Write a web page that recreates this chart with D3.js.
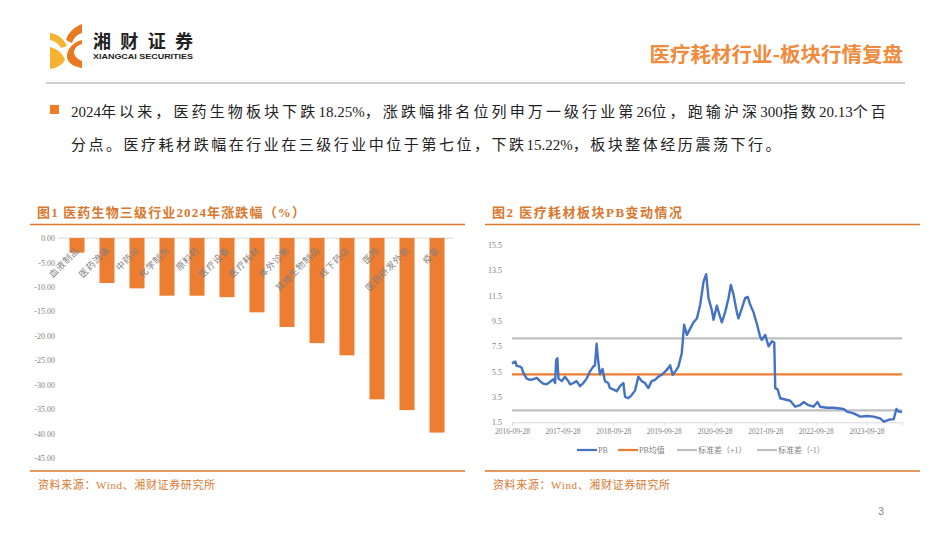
<!DOCTYPE html>
<html><head><meta charset="utf-8">
<script src="https://cdn.jsdelivr.net/npm/d3@7"></script>
<style>
body{margin:0;background:#fff;}
svg{display:block;}
</style></head><body>
<svg id="c" width="950" height="535"></svg>
<script>
// ---------- data ----------
const barCategories = ["血液制品","医药流通","中药Ⅲ","化学制剂","原料药","医疗设备","医疗耗材","体外诊断","其他生物制品","线下药店","医院","医药研发外包","疫苗"];
const barValues = [-3.0,-9.2,-10.3,-11.8,-11.8,-12.1,-15.2,-18.2,-21.5,-24.0,-33.0,-35.2,-39.8];
const barTicks = [0,-5,-10,-15,-20,-25,-30,-35,-40,-45];

const pbDates = ["2016-09-28","2016-10-22","2016-11-01","2016-11-25","2016-12-07","2016-12-19","2017-01-12","2017-02-05","2017-03-01","2017-03-26","2017-04-18","2017-05-12","2017-06-05","2017-06-30","2017-07-24","2017-08-05","2017-08-12","2017-08-21","2017-08-29","2017-09-22","2017-10-15","2017-11-08","2017-11-20","2017-12-14","2018-01-07","2018-01-31","2018-02-24","2018-03-20","2018-04-12","2018-05-07","2018-05-19","2018-05-31","2018-06-12","2018-06-24","2018-07-13","2018-07-30","2018-08-23","2018-09-04","2018-09-28","2018-10-23","2018-11-16","2018-12-10","2018-12-22","2019-01-15","2019-02-08","2019-03-04","2019-03-28","2019-04-21","2019-05-15","2019-06-08","2019-07-02","2019-07-26","2019-08-19","2019-09-12","2019-10-07","2019-10-31","2019-11-12","2019-12-01","2019-12-18","2020-01-11","2020-02-04","2020-02-21","2020-03-12","2020-04-05","2020-04-29","2020-05-23","2020-06-16","2020-07-10","2020-07-29","2020-08-15","2020-09-08","2020-09-20","2020-10-14","2020-11-07","2020-11-19","2020-12-13","2021-01-06","2021-01-23","2021-02-11","2021-03-07","2021-03-19","2021-04-12","2021-05-06","2021-05-25","2021-06-11","2021-07-05","2021-07-29","2021-08-22","2021-09-03","2021-09-28","2021-10-22","2021-11-15","2021-12-02","2021-12-09","2021-12-26","2022-01-14","2022-02-19","2022-03-27","2022-05-02","2022-06-07","2022-07-01","2022-08-06","2022-09-11","2022-10-10","2022-10-29","2022-12-17","2023-02-03","2023-04-16","2023-05-10","2023-06-27","2023-08-14","2023-10-01","2023-11-18","2024-01-06","2024-01-30","2024-03-06","2024-04-11","2024-05-01","2024-05-17","2024-06-10"];
const pbValues = [6.15,6.3,5.95,5.9,5.8,5.4,4.95,4.85,4.9,5.0,4.75,4.55,4.5,4.7,4.9,4.6,6.4,6.55,4.95,4.75,5.1,4.75,4.5,4.6,4.75,4.35,4.6,4.95,5.5,5.9,6.0,7.7,6.3,5.3,5.7,4.75,4.6,4.2,4.1,3.95,4.35,4.6,3.5,3.4,3.65,4.0,5.1,4.75,4.6,4.2,4.75,4.85,5.1,5.25,5.5,5.8,6.0,5.25,5.5,5.9,6.95,9.2,8.4,8.9,9.4,9.7,10.8,12.6,13.2,11.3,10.35,9.6,10.7,9.8,9.4,10.2,11.3,12.35,11.6,10.2,9.7,10.5,11.3,11.4,10.8,10.2,9.3,8.25,8.0,8.4,7.5,7.9,7.8,4.2,4.1,3.4,3.3,3.2,2.73,2.85,3.1,2.85,2.73,3.1,2.73,2.65,2.65,2.55,2.34,2.2,1.95,2.0,1.95,1.8,1.55,1.7,1.75,2.55,2.35,2.3];
const pbMean = 5.29;
const pbPlus1 = 8.13;
const pbMinus1 = 2.44;
const pbTicks = [1.5,3.5,5.5,7.5,9.5,11.5,13.5,15.5];
const pbDateTicks = ["2016-09-28","2017-09-28","2018-09-28","2019-09-28","2020-09-28","2021-09-28","2022-09-28","2023-09-28"];
const legendItems = ["PB","PB均值","标准差（+1）","标准差（-1）"];

// ---------- style ----------
const SERIF = "'Liberation Serif','Noto Sans CJK SC',serif";
const SANS = "'Noto Sans CJK SC','Noto Sans',sans-serif";
const ORANGE = "#ED7D31";
const TITLE_OR = "#D9782F";
const GRAY_T = "#7F7F7F";
const svg = d3.select("#c");

// ---------- header ----------
const logo = svg.append("g");
logo.append("path").attr("fill","#F6B332")
  .attr("d","M50,33 C58,34 64,39 67,46 L61,48 C59,44 55,41 50,40 Z");
logo.append("path").attr("fill","#F6B332")
  .attr("d","M50,47 C58,49 63,54 65,60 C62,65 57,68 50,69 Z");
logo.append("path").attr("fill","#E9791E")
  .attr("d","M82,24 C74,27 68,33 66,40 L72,43 C74,37 78,34 82,33 Z");
logo.append("path").attr("fill","#E9791E")
  .attr("d","M82,40 C73,42 66,50 67,58 C69,64 75,67 82,68 L82,61 C77,59 74,56 74,52 C75,47 78,45 82,44 Z");
svg.append("text").attr("x",93).attr("y",48).attr("font-family",SANS).attr("font-weight","bold")
  .attr("font-size",18).attr("fill","#222").attr("textLength",100).text("湘财证券");
svg.append("text").attr("x",93).attr("y",58.5).attr("font-family","'Liberation Sans',Arial,sans-serif")
  .attr("font-weight","bold").attr("font-size",7.4).attr("fill","#222").attr("textLength",100)
  .attr("lengthAdjust","spacingAndGlyphs").text("XIANGCAI SECURITIES");
svg.append("text").attr("x",903).attr("y",62).attr("text-anchor","end").attr("font-family",SANS)
  .attr("font-weight","bold").attr("font-size",20.5).attr("fill","#F08A3C").text("医疗耗材行业-板块行情复盘");
svg.append("line").attr("x1",46).attr("x2",905).attr("y1",83).attr("y2",83)
  .attr("stroke","#BFBFBF").attr("stroke-width",1.5);

// ---------- bullet ----------
svg.append("rect").attr("x",50).attr("y",105).attr("width",9).attr("height",9).attr("fill","#F07C24");
function richLine(x,y,str,target){
  const t = svg.append("text").attr("x",x).attr("y",y).attr("font-family",SERIF)
    .attr("font-size",15).attr("fill","#222");
  const runs = str.match(/[\x00-\x7F]+|[^\x00-\x7F]+/g);
  let nC = 0;
  runs.forEach(r=>{
    const isC = /[^\x00-\x7F]/.test(r);
    if(isC) nC += r.length;
    t.append("tspan").attr("class",isC?"cjk":"lat").text(r);
  });
  const w = t.node().getComputedTextLength();
  const s = (target - w)/nC;
  t.selectAll("tspan.cjk").attr("letter-spacing",s);
}
richLine(71,117,"2024年以来，医药生物板块下跌18.25%，涨跌幅排名位列申万一级行业第26位，跑输沪深300指数20.13个百",818);
richLine(71,150,"分点。医疗耗材跌幅在行业在三级行业中位于第七位，下跌15.22%，板块整体经历震荡下行。",712);

// ---------- panel frames ----------
function panel(x0,x1,title,titleLen){
  svg.append("text").attr("x",x0+7).attr("y",217).attr("font-family",SERIF).attr("font-weight","bold")
    .attr("font-size",13).attr("fill",TITLE_OR).attr("textLength",titleLen).attr("lengthAdjust","spacing").text(title);
  svg.append("line").attr("x1",x0).attr("x2",x1).attr("y1",224.5).attr("y2",224.5)
    .attr("stroke",TITLE_OR).attr("stroke-width",1.3);
  svg.append("line").attr("x1",x0).attr("x2",x1).attr("y1",471).attr("y2",471)
    .attr("stroke",TITLE_OR).attr("stroke-width",1.3);
  svg.append("text").attr("x",x0+8).attr("y",489).attr("font-family",SERIF)
    .attr("font-size",11).attr("fill",TITLE_OR).attr("textLength",177).attr("lengthAdjust","spacing")
    .text("资料来源：Wind、湘财证券研究所");
}
panel(30,465,"图1 医药生物三级行业2024年涨跌幅（%）",268);
panel(485,920,"图2 医疗耗材板块PB变动情况",190);

// ---------- bar chart ----------
const xb = d3.scaleBand().domain(barCategories).range([62,452]).paddingInner(0.5).paddingOuter(0.25);
const yb = d3.scaleLinear().domain([-45,0]).range([458,238]);
const gb = svg.append("g");
gb.append("line").attr("x1",58).attr("x2",453).attr("y1",yb(0)).attr("y2",yb(0))
  .attr("stroke","#D9D9D9").attr("stroke-width",1);
gb.selectAll("rect.bar").data(barValues).join("rect").attr("class","bar")
  .attr("x",(d,i)=>xb(barCategories[i])).attr("width",xb.bandwidth())
  .attr("y",yb(0)).attr("height",d=>yb(d)-yb(0)).attr("fill",ORANGE);
const yAxisB = d3.axisLeft(yb).tickValues(barTicks).tickSize(0).tickPadding(0).tickFormat(d3.format(".2f"));
const ga = gb.append("g").attr("transform","translate(55,0)").call(yAxisB);
ga.select(".domain").remove();
ga.selectAll("text").attr("font-family",SERIF).attr("font-size",8).attr("fill",GRAY_T)
  .text(d=>d===0?"0.00":d3.format(".2f")(d).replace("−","-"));
gb.selectAll("text.cat").data(barCategories).join("text").attr("class","cat")
  .attr("transform",d=>`translate(${xb(d)+xb.bandwidth()/2+3},251) rotate(-45)`)
  .attr("text-anchor","end").attr("font-family",SANS).attr("font-size",9).attr("fill",GRAY_T)
  .attr("letter-spacing",0.6)
  .text(d=>d);

// ---------- PB line chart ----------
const parse = d3.timeParse("%Y-%m-%d");
const pbData = pbDates.map((d,i)=>({t:parse(d),v:pbValues[i]}));
const xt = d3.scaleTime().domain([parse("2016-09-28"),parse("2024-06-10")]).range([512,902]);
const yt = d3.scaleLinear().domain([1.5,15.5]).range([422.3,245]);
const gp = svg.append("g");
const xAxisP = d3.axisBottom(xt).tickValues(pbDateTicks.map(parse)).tickSize(3).tickPadding(3)
  .tickFormat(d3.timeFormat("%Y-%m-%d"));
const gx = gp.append("g").attr("transform",`translate(0,${yt(1.5)})`).call(xAxisP);
gx.select(".domain").attr("stroke","#D9D9D9");
gx.selectAll(".tick line").attr("stroke","#D9D9D9");
gx.selectAll("text").attr("font-family",SERIF).attr("font-size",7.5).attr("fill",GRAY_T);
const yAxisP = d3.axisLeft(yt).tickValues(pbTicks).tickSize(0).tickPadding(0).tickFormat(d3.format(".1f"));
const gy = gp.append("g").attr("transform","translate(502,0)").call(yAxisP);
gy.select(".domain").remove();
gy.selectAll("text").attr("font-family",SERIF).attr("font-size",8).attr("fill",GRAY_T);
const refLines = [{v:pbPlus1,c:"#BFBFBF"},{v:pbMinus1,c:"#BFBFBF"},{v:pbMean,c:ORANGE}];
gp.selectAll("line.ref").data(refLines).join("line").attr("class","ref")
  .attr("x1",xt.range()[0]).attr("x2",xt.range()[1]).attr("y1",d=>yt(d.v)).attr("y2",d=>yt(d.v))
  .attr("stroke",d=>d.c).attr("stroke-width",2.2);
gp.append("path").datum(pbData).attr("fill","none").attr("stroke","#4472C4").attr("stroke-width",2.4)
  .attr("stroke-linejoin","round")
  .attr("d",d3.line().x(d=>xt(d.t)).y(d=>yt(d.v)));

// legend
const legColors = ["#4472C4",ORANGE,"#BFBFBF","#BFBFBF"];
const legX = [577,618,677,757];
const gl = gp.selectAll("g.leg").data(legendItems).join("g").attr("class","leg")
  .attr("transform",(d,i)=>`translate(${legX[i]},450)`);
gl.append("line").attr("x1",0).attr("x2",20).attr("stroke",(d,i)=>legColors[i]).attr("stroke-width",2.2);
gl.append("text").attr("x",21).attr("y",3).attr("font-family",SERIF).attr("font-size",8)
  .attr("fill",GRAY_T).text(d=>d);

// ---------- footer ----------
svg.append("text").attr("x",878).attr("y",515).attr("font-family","'Liberation Sans',sans-serif")
  .attr("font-size",11).attr("fill","#8C8C8C").text("3");
</script>
</body></html>
